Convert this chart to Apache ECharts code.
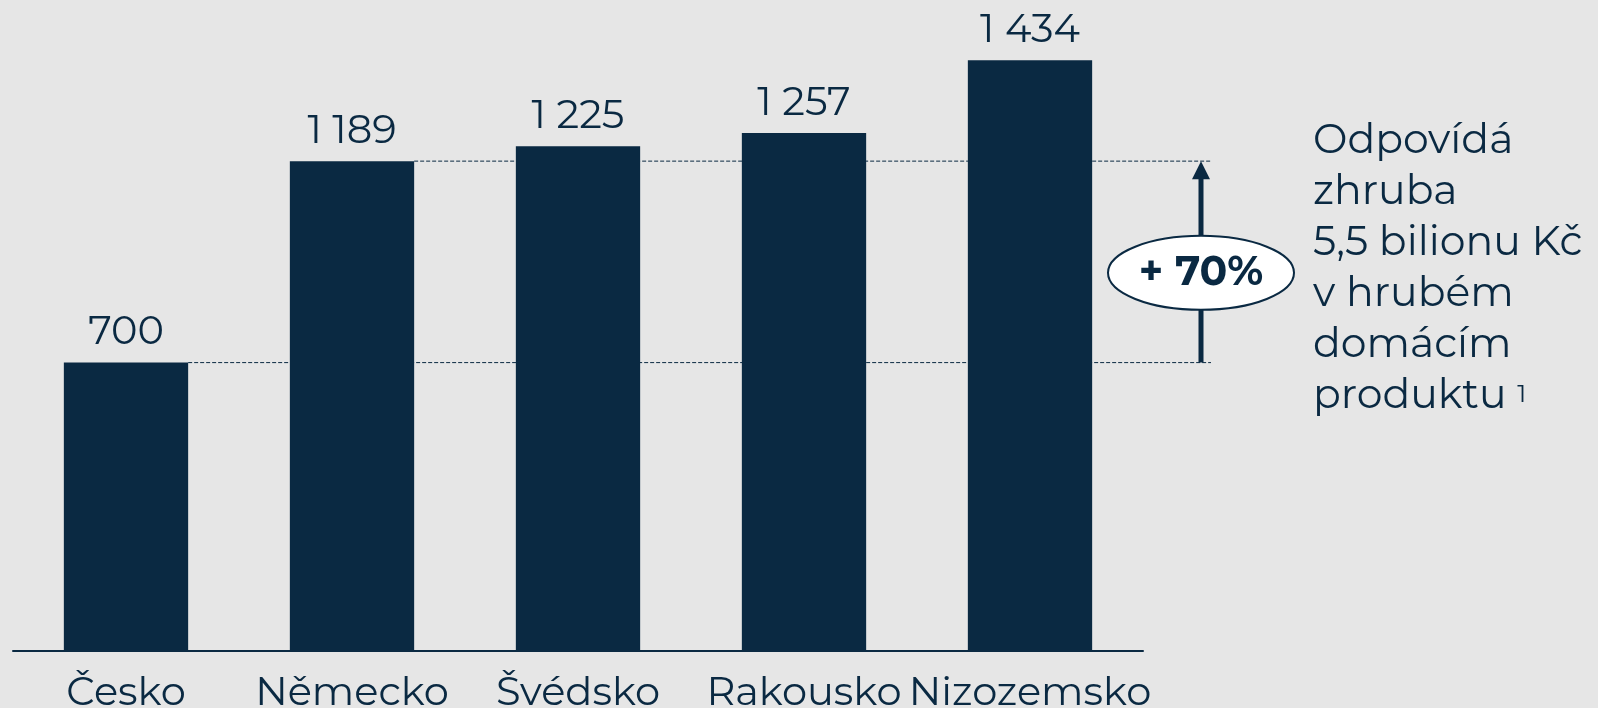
<!DOCTYPE html>
<html>
<head>
<meta charset="utf-8">
<script src="https://cdn.jsdelivr.net/npm/echarts@6/dist/echarts.min.js"></script>
<style>
  html, body { margin: 0; padding: 0; background: #e6e6e6; }
  #chart { width: 1598px; height: 708px; }
</style>
</head>
<body>
<div id="chart"></div>
<script>
const categories = ['Česko', 'Německo', 'Švédsko', 'Rakousko', 'Nizozemsko']
const values = [700, 1189, 1225, 1257, 1434]
// srovnání: Česko vs. Německo
const baseValue = 700
const compareValue = 1189
const growthLabel = '+ 70%'
const noteLines = ['Odpovídá', 'zhruba', '5,5 bilionu Kč', 'v hrubém', 'domácím', 'produktu']

const navy = '#0a2942'
const font = 'Montserrat, "DejaVu Sans", sans-serif'

const chart = echarts.init(document.getElementById('chart'))

const fmt = v => String(v).replace(/\B(?=(\d{3})+(?!\d))/g, '\u00a0')

chart.setOption({
  backgroundColor: '#e6e6e6',
  animation: false,
  grid: { left: 13, right: 455, top: 33, bottom: 57, outerBoundsMode: 'none' },
  xAxis: {
    type: 'category',
    data: categories,
    axisLine: { lineStyle: { color: navy, width: 2 } },
    axisTick: { show: false },
    axisLabel: { interval: 0, color: navy, fontSize: 40, fontFamily: font, margin: 22 }
  },
  yAxis: { type: 'value', min: 0, max: 1500, show: false, splitLine: { show: false } },
  series: [{
    type: 'bar',
    data: values,
    barWidth: '55%',
    itemStyle: { color: navy },
    label: {
      show: true,
      position: 'top',
      distance: 10,
      color: navy,
      fontSize: 40,
      fontFamily: font,
      formatter: p => fmt(p.value)
    }
  }]
})

// anotace: přerušované čáry, šipka, elipsa a text vpravo
const drawNotes = () => {
  const x0 = chart.convertToPixel({ xAxisIndex: 0 }, categories[0])
  const x1 = chart.convertToPixel({ xAxisIndex: 0 }, categories[1])
  const half = (x1 - x0) * 0.55 / 2
  const yBase = chart.convertToPixel({ yAxisIndex: 0 }, baseValue)
  const yTop = chart.convertToPixel({ yAxisIndex: 0 }, compareValue)
  const gridRight = chart.getWidth() - 455
  const lineEnd = gridRight + 68
  const ax = gridRight + 58
  const my = (yBase + yTop) / 2 + 11
  const dash = { stroke: navy, lineWidth: 1, lineDash: [4, 2] }

  chart.setOption({
    graphic: [
      { type: 'line', z: 0, shape: { x1: x0 + half, y1: yBase, x2: lineEnd, y2: yBase }, style: dash },
      { type: 'line', z: 0, shape: { x1: x1 + half, y1: yTop, x2: lineEnd, y2: yTop }, style: dash },
      { type: 'line', z: 3, shape: { x1: ax, y1: yBase, x2: ax, y2: yTop + 14 }, style: { stroke: navy, lineWidth: 5 } },
      { type: 'polygon', z: 3, shape: { points: [[ax, yTop], [ax - 9, yTop + 18], [ax + 9, yTop + 18]] }, style: { fill: navy } },
      { type: 'ellipse', z: 4, shape: { cx: ax, cy: my, rx: 93, ry: 37 }, style: { fill: '#fff', stroke: navy, lineWidth: 2 } },
      {
        type: 'text', z: 5, x: ax, y: my,
        style: { text: growthLabel, fill: navy, font: 'bold 41px ' + font, align: 'center', verticalAlign: 'middle' }
      },
      {
        type: 'text', z: 5, x: 1313, y: 115,
        style: {
          text: noteLines.join('\n') + ' {sup|1}',
          fill: navy,
          fontSize: 41,
          fontFamily: font,
          lineHeight: 51,
          rich: { sup: { fontSize: 25, lineHeight: 25, padding: [12, 0, 0, 0], verticalAlign: 'top', fill: navy, fontFamily: font } }
        }
      }
    ]
  })
}
drawNotes()
</script>
</body>
</html>
